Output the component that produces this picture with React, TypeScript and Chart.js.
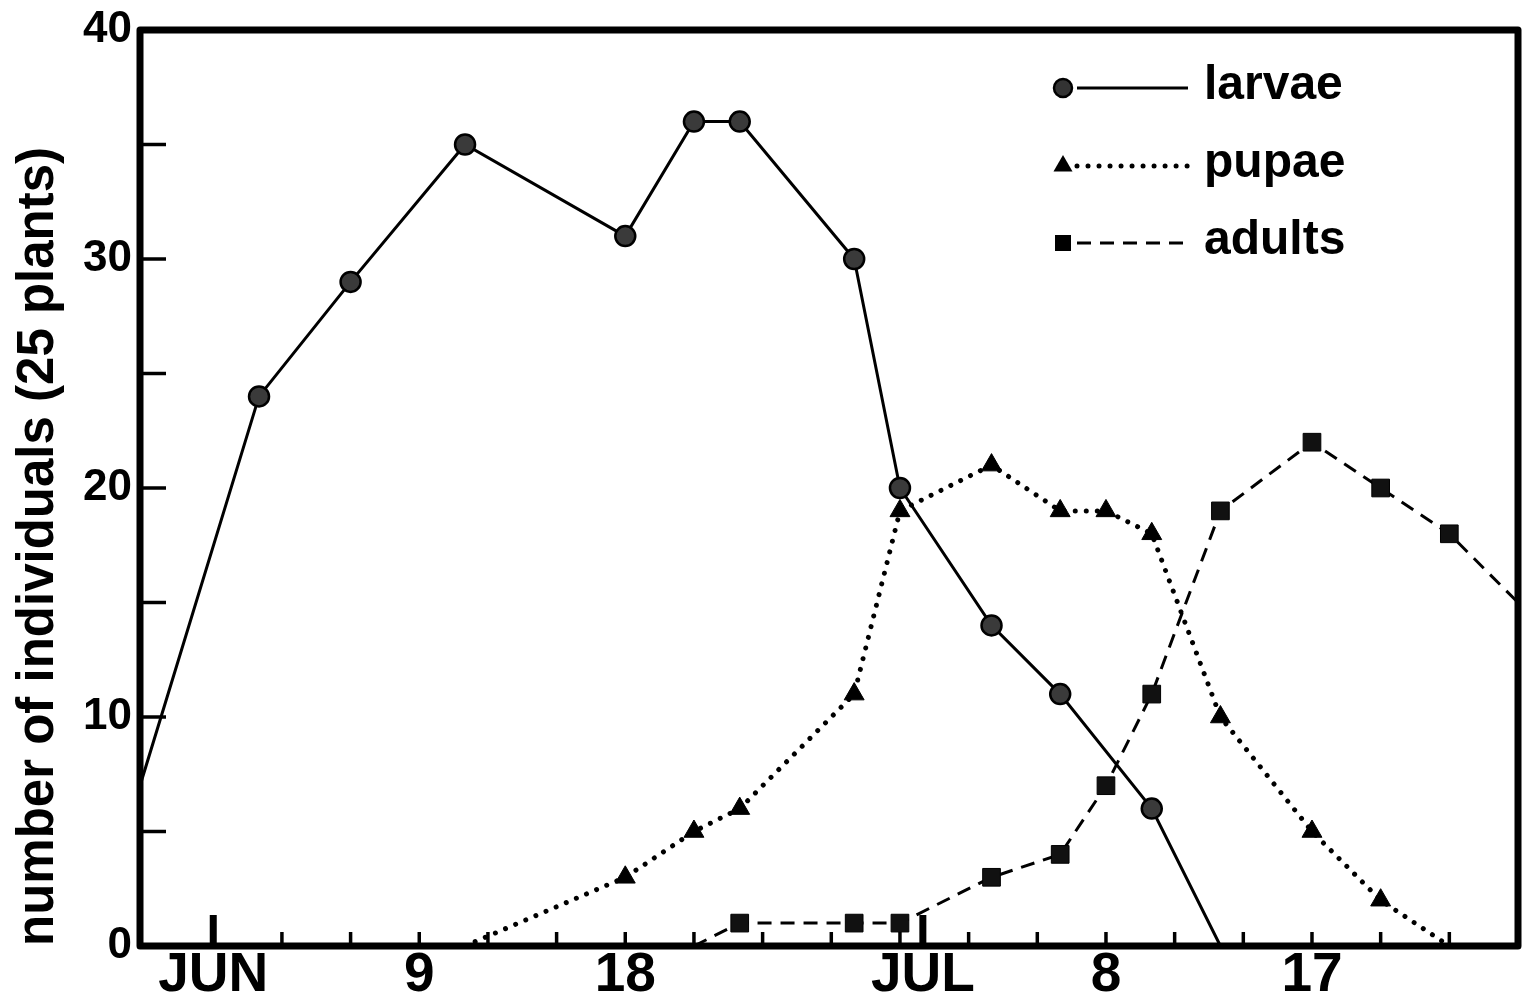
import React, { useEffect, useRef } from "react";
import { Chart, registerables } from "chart.js";

Chart.register(...registerables);

// ---- data (x = day, counted from the start of June) ----
const X_MIN = -3.2;
const X_MAX = 57;
const Y_MIN = 0;
const Y_MAX = 40;

const larvaeDays = [-3.2, 2, 6, 11, 18, 21, 23, 28, 30, 34, 37, 41, 44];
const larvaeCounts = [7, 24, 29, 35, 31, 36, 36, 30, 20, 14, 11, 6, 0];

const pupaeDays = [11, 18, 21, 23, 28, 30, 34, 37, 39, 41, 44, 48, 51, 54];
const pupaeCounts = [0, 3, 5, 6, 11, 19, 21, 19, 19, 18, 10, 5, 2, 0];

const adultDays = [21, 23, 28, 30, 34, 37, 39, 41, 44, 48, 51, 54, 57];
const adultCounts = [0, 1, 1, 1, 3, 4, 7, 11, 19, 22, 20, 18, 15];

const xTickValues = [0, 9, 18, 31, 39, 48];
const xTickLabels = ["JUN", "9", "18", "JUL", "8", "17"];
const yTickValues = [0, 10, 20, 30, 40];
const xMinorStep = 3;
const yMinorStep = 5;
const monthStarts = [0, 31];
const seriesNames = ["larvae", "pupae", "adults"];
const yTitle = "number of individuals (25 plants)";

const FONT = '"Liberation Sans", Arial, Helvetica, sans-serif';

const toPoints = (xs: number[], ys: number[]) => xs.map((x, i) => ({ x, y: ys[i] }));

const markerRadius = (r: number) => (ctx: any) => {
  const p = ctx.raw;
  if (!p) return r;
  return p.y === 0 || p.x <= X_MIN || p.x >= X_MAX ? 0 : r;
};

const framePlugin = {
  id: "frameAndTicks",
  afterDraw(chart: any) {
    const { ctx, chartArea: a, scales } = chart;
    const xs = scales.x;
    const ys = scales.y;
    ctx.save();
    ctx.strokeStyle = "#000";
    ctx.lineCap = "butt";
    ctx.lineWidth = 3.5;
    for (let v = Y_MIN + yMinorStep; v < Y_MAX; v += yMinorStep) {
      const py = ys.getPixelForValue(v);
      ctx.beginPath();
      ctx.moveTo(a.left, py);
      ctx.lineTo(a.left + 26, py);
      ctx.stroke();
    }
    for (let d = 0; d < X_MAX; d += xMinorStep) {
      const px = xs.getPixelForValue(d);
      ctx.beginPath();
      ctx.moveTo(px, a.bottom);
      ctx.lineTo(px, a.bottom - 14);
      ctx.stroke();
    }
    ctx.lineWidth = 7;
    for (const d of monthStarts) {
      const px = xs.getPixelForValue(d);
      ctx.beginPath();
      ctx.moveTo(px, a.bottom);
      ctx.lineTo(px, a.bottom - 31);
      ctx.stroke();
    }
    ctx.lineWidth = 7;
    ctx.lineJoin = "round";
    ctx.strokeRect(a.left, a.top, a.right - a.left, a.bottom - a.top);
    ctx.restore();
  },
};

const legendPlugin = {
  id: "customLegend",
  afterDraw(chart: any) {
    const { ctx } = chart;
    const ds = chart.data.datasets;
    const rowsY = [88, 166, 243];
    const markerX = 1063;
    const lineX0 = 1077;
    const lineX1 = 1188;
    const textX = 1204;
    ctx.save();
    ds.forEach((d: any, i: number) => {
      const y = rowsY[i];
      ctx.strokeStyle = "#000";
      ctx.lineWidth = d.borderWidth;
      ctx.setLineDash(d.borderDash || []);
      ctx.lineCap = d.borderCapStyle || "butt";
      ctx.beginPath();
      ctx.moveTo(lineX0, y);
      ctx.lineTo(lineX1, y);
      ctx.stroke();
      ctx.setLineDash([]);
      ctx.lineCap = "butt";
      ctx.fillStyle = "#000";
      ctx.beginPath();
      if (d.pointStyle === "circle") {
        ctx.arc(markerX, y, 9, 0, Math.PI * 2);
        ctx.fillStyle = "#333";
        ctx.fill();
        ctx.lineWidth = 2.5;
        ctx.stroke();
      } else if (d.pointStyle === "triangle") {
        const r = 11;
        ctx.moveTo(markerX, y - r);
        ctx.lineTo(markerX + r * 0.866, y + r * 0.5);
        ctx.lineTo(markerX - r * 0.866, y + r * 0.5);
        ctx.closePath();
        ctx.fill();
      } else {
        ctx.rect(markerX - 8, y - 8, 16, 16);
        ctx.fill();
      }
      ctx.fillStyle = "#000";
      ctx.font = `bold 48px ${FONT}`;
      ctx.textBaseline = "middle";
      ctx.textAlign = "left";
      ctx.fillText(seriesNames[i], textX, y - 2);
    });
    ctx.restore();
  },
};

export default function App() {
  const canvasRef = useRef<HTMLCanvasElement | null>(null);

  useEffect(() => {
    if (!canvasRef.current) return;
    const chart = new Chart(canvasRef.current, {
      type: "line",
      data: {
        datasets: [
          {
            label: seriesNames[0],
            data: toPoints(larvaeDays, larvaeCounts),
            borderColor: "#000",
            borderWidth: 3,
            pointStyle: "circle",
            pointRadius: markerRadius(10),
            pointBackgroundColor: "#3a3a3a",
            pointBorderColor: "#000",
            pointBorderWidth: 2.5,
            tension: 0,
          },
          {
            label: seriesNames[1],
            data: toPoints(pupaeDays, pupaeCounts),
            borderColor: "#000",
            borderWidth: 5,
            borderDash: [0.01, 11],
            borderCapStyle: "round",
            pointStyle: "triangle",
            pointRadius: markerRadius(11.5),
            pointBackgroundColor: "#000",
            pointBorderColor: "#000",
            pointBorderWidth: 1,
            tension: 0,
          },
          {
            label: seriesNames[2],
            data: toPoints(adultDays, adultCounts),
            borderColor: "#000",
            borderWidth: 3,
            borderDash: [14, 9],
            pointStyle: "rect",
            pointRadius: markerRadius(12.5),
            pointBackgroundColor: "#111",
            pointBorderColor: "#000",
            pointBorderWidth: 1,
            tension: 0,
          },
        ] as any,
      },
      options: {
        animation: false,
        responsive: true,
        maintainAspectRatio: false,
        layout: { padding: { top: 28, right: 10, left: 0, bottom: 0 } },
        plugins: {
          legend: { display: false },
          tooltip: { enabled: false },
        },
        scales: {
          x: {
            type: "linear",
            min: X_MIN,
            max: X_MAX,
            grid: { display: false, drawTicks: false },
            border: { display: false },
            afterBuildTicks: (scale: any) => {
              scale.ticks = xTickValues.map((v) => ({ value: v }));
            },
            afterFit: (scale: any) => {
              scale.height = 60;
            },
            ticks: {
              autoSkip: false,
              maxRotation: 0,
              padding: 2,
              color: "#000",
              font: { family: FONT, size: 55, weight: "bold", lineHeight: 1 },
              callback: (v: any) => {
                const i = xTickValues.indexOf(Number(v));
                return i >= 0 ? xTickLabels[i] : "";
              },
            },
          },
          y: {
            type: "linear",
            min: Y_MIN,
            max: Y_MAX,
            grid: { display: false, drawTicks: false },
            border: { display: false },
            afterBuildTicks: (scale: any) => {
              scale.ticks = yTickValues.map((v) => ({ value: v }));
            },
            afterFit: (scale: any) => {
              scale.width = 140;
            },
            ticks: {
              padding: 8,
              color: "#000",
              font: { family: FONT, size: 44, weight: "bold", lineHeight: 1 },
            },
            title: {
              display: true,
              text: yTitle,
              align: "start",
              color: "#000",
              padding: { top: 8, bottom: 0 },
              font: { family: FONT, size: 51, weight: "bold", lineHeight: 1.2 },
            },
          },
        },
      } as any,
      plugins: [framePlugin, legendPlugin],
    });
    return () => chart.destroy();
  }, []);

  return (
    <div
      style={{
        position: "fixed",
        left: 0,
        top: 0,
        width: 1528,
        height: 1006,
        background: "#fff",
      }}
    >
      <canvas ref={canvasRef} />
    </div>
  );
}
